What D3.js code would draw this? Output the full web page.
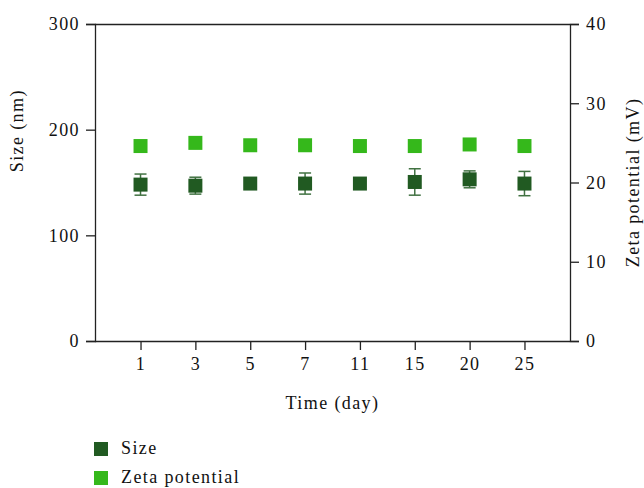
<!DOCTYPE html>
<html>
<head>
<meta charset="utf-8">
<script src="https://cdn.jsdelivr.net/npm/d3@7"></script>
<style>
  body { margin: 0; background: #fff; }
  text { font-family: "Liberation Serif", "DejaVu Serif", serif; fill: #111; letter-spacing: 1.4px; }
</style>
</head>
<body>
<script>
// data
const days = ['1', '3', '5', '7', '11', '15', '20', '25'];
const sizeVals = [148, 147, 149, 149, 149, 150.5, 153, 149];
const sizeErr = [10, 8, 2, 10, 2, 12.5, 8, 11.5];
const zetaVals = [24.6, 25.0, 24.7, 24.7, 24.6, 24.6, 24.8, 24.6];
const leftTicks = [0, 100, 200, 300];
const rightTicks = [0, 10, 20, 30, 40];

const sizeColor = '#215a22';
const zetaColor = '#35b81b';

const margin = {top: 24, bottom: 147, left: 95, right: 74};
const width = 644 - margin.left - margin.right;
const height = 488 - margin.top - margin.bottom;
const fs = '18px';

const svg = d3.select('body').append('svg')
  .attr('width', 644)
  .attr('height', 488);

const g = svg.append('g')
  .attr('transform', `translate(${margin.left},${margin.top})`);

const x = d3.scalePoint().domain(days).range([0, width]).padding(0.83);
const yL = d3.scaleLinear().domain([0, 300]).range([height, 0]);
const yR = d3.scaleLinear().domain([0, 40]).range([height, 0]);

// axes
const ax = g.append('g').attr('transform', `translate(0,${height})`)
  .call(d3.axisBottom(x).tickSize(9).tickPadding(7));
const al = g.append('g').call(d3.axisLeft(yL).tickValues(leftTicks).tickSize(9).tickPadding(6));
const ar = g.append('g').attr('transform', `translate(${width},0)`)
  .call(d3.axisRight(yR).tickValues(rightTicks).tickSize(9).tickPadding(7));

[ax, al, ar].forEach((a) => {
  a.selectAll('text').style('font-size', fs).attr('fill', '#111');
  a.selectAll('line, path').attr('stroke', '#222').attr('stroke-width', 1.3);
});
ax.select('.domain').attr('d', `M0,0.5H${width}`);

// top frame line
g.append('line')
  .attr('x1', 0).attr('x2', width)
  .attr('y1', 0.5).attr('y2', 0.5)
  .attr('stroke', '#222').attr('stroke-width', 1.3);

// axis titles
g.append('text')
  .attr('x', width / 2).attr('y', height + 68)
  .attr('text-anchor', 'middle')
  .style('font-size', fs)
  .text('Time (day)');

g.append('text')
  .attr('transform', `translate(${-72},${yL(199)}) rotate(-90)`)
  .attr('text-anchor', 'middle')
  .style('font-size', fs)
  .text('Size (nm)');

g.append('text')
  .attr('transform', `translate(${width + 69},${height / 2}) rotate(-90)`)
  .attr('text-anchor', 'middle')
  .style('font-size', fs)
  .text('Zeta potential (mV)');

// error bars for size
const eb = g.selectAll('.err')
  .data(days)
  .join('g')
  .attr('class', 'err')
  .attr('stroke', sizeColor)
  .attr('stroke-width', 1.5)
  .attr('opacity', 0.85);

eb.append('line')
  .attr('x1', (d) => x(d)).attr('x2', (d) => x(d))
  .attr('y1', (d, i) => yL(sizeVals[i] + sizeErr[i]))
  .attr('y2', (d, i) => yL(sizeVals[i] - sizeErr[i]));
eb.append('line')
  .attr('x1', (d) => x(d) - 6).attr('x2', (d) => x(d) + 6)
  .attr('y1', (d, i) => yL(sizeVals[i] + sizeErr[i]))
  .attr('y2', (d, i) => yL(sizeVals[i] + sizeErr[i]));
eb.append('line')
  .attr('x1', (d) => x(d) - 6).attr('x2', (d) => x(d) + 6)
  .attr('y1', (d, i) => yL(sizeVals[i] - sizeErr[i]))
  .attr('y2', (d, i) => yL(sizeVals[i] - sizeErr[i]));

const s = 14;
g.selectAll('.size-pt')
  .data(days)
  .join('rect')
  .attr('class', 'size-pt')
  .attr('x', (d) => x(d) - s / 2)
  .attr('y', (d, i) => yL(sizeVals[i]) - s / 2)
  .attr('width', s).attr('height', s)
  .attr('fill', sizeColor);

g.selectAll('.zeta-pt')
  .data(days)
  .join('rect')
  .attr('class', 'zeta-pt')
  .attr('x', (d) => x(d) - s / 2)
  .attr('y', (d, i) => yR(zetaVals[i]) - s / 2)
  .attr('width', s).attr('height', s)
  .attr('fill', zetaColor);

// legend
const legend = svg.append('g').attr('transform', 'translate(94,442)');
const items = [['Size', sizeColor], ['Zeta potential', zetaColor]];
const li = legend.selectAll('g')
  .data(items)
  .join('g')
  .attr('transform', (d, i) => `translate(0,${i * 29})`);
li.append('rect').attr('width', 14).attr('height', 14).attr('fill', (d) => d[1]);
li.append('text')
  .attr('x', 27).attr('y', 12)
  .style('font-size', fs)
  .text((d) => d[0]);
</script>
</body>
</html>
